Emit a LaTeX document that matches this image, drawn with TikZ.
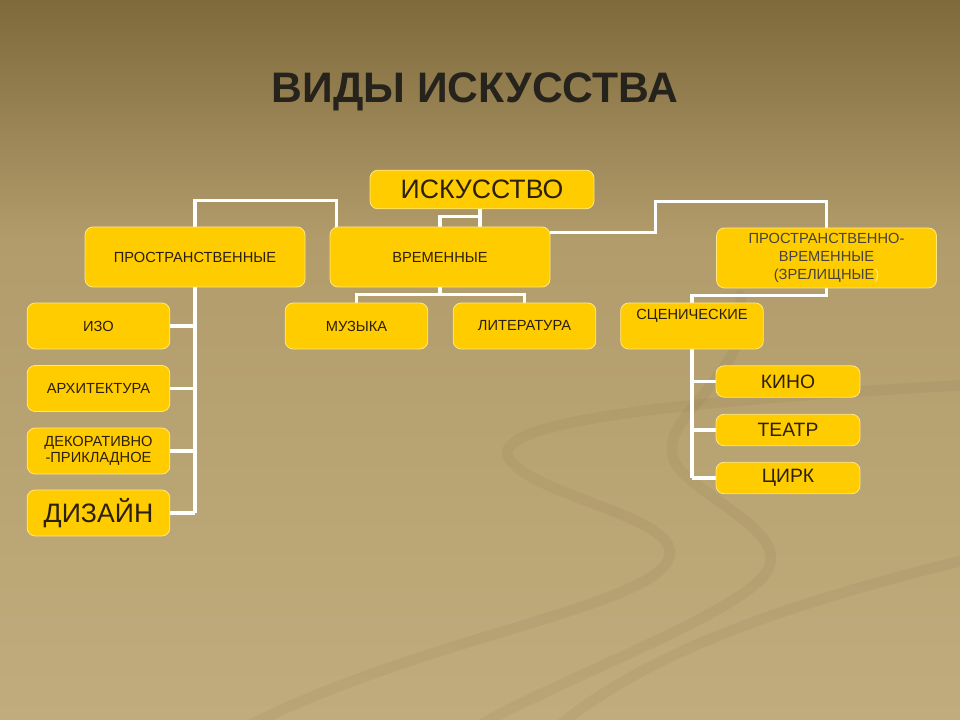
\documentclass[tikz,border=0pt]{standalone}
\usepackage{fontspec}
\setmainfont{Liberation Sans}
\usetikzlibrary{calc}
\definecolor{BoxYellow}{RGB}{255,204,0}
\definecolor{BoxEdge}  {RGB}{255,232,130}
\definecolor{InkBrown} {RGB}{45,32,10}
\definecolor{TitleInk} {RGB}{38,34,28}
\definecolor{BgTop}    {RGB}{127,106,60}
\definecolor{BgMid}    {RGB}{178,156,108}
\definecolor{BgLow}    {RGB}{192,172,124}
\definecolor{Swoosh}   {RGB}{120,98,58}
\pgfdeclarelayer{paper}
\pgfdeclarelayer{wires}
\pgfsetlayers{paper,wires,main}

\begin{document}
\begin{tikzpicture}[x=0.75pt,y=-0.75pt,
  tile/.style={draw=BoxEdge,line width=0.6pt,fill=BoxYellow,
               rounded corners=6pt,text=InkBrown,inner sep=0pt,align=center,
               font=\fontsize{11}{13}\selectfont},
  big/.style={font=\fontsize{20}{24}\selectfont},
  mid/.style={font=\fontsize{14.5}{17}\selectfont},
  wide/.style={tile,minimum width=165pt,minimum height=45pt},
  small/.style={tile,minimum width=107pt,minimum height=34.5pt},
  strip/.style={tile,mid,minimum width=108pt,minimum height=23.5pt},
  wire/.style={draw=white,line width=2.3pt}]
  \useasboundingbox (0,0) rectangle (960,720);
  % Background
  \begin{pgfonlayer}{paper}
    \shade[top color=BgTop,bottom color=BgMid] (0,0) rectangle (960,241);
    \shade[top color=BgMid,bottom color=BgLow] (0,240) rectangle (960,720);
    \begin{scope}[Swoosh,opacity=0.09,line width=8pt,line cap=round]
      \draw (965,385) .. controls (700,400) and (480,420) .. (510,460)
            .. controls (540,500) and (700,520) .. (665,565)
            .. controls (630,610) and (420,640) .. (250,725);
      \draw (740,295) .. controls (760,380) and (640,420) .. (680,470)
            .. controls (720,510) and (800,540) .. (760,580)
            .. controls (720,620) and (560,680) .. (480,725);
      \draw (965,560) .. controls (800,600) and (650,650) .. (560,725);
    \end{scope}
  \end{pgfonlayer}
  % Title
  \node[font=\fontsize{32}{38}\selectfont\bfseries,text=TitleInk] (title)
       at (475,92) {ВИДЫ ИСКУССТВА};
  % Top levels
  \node[tile,big,minimum width=168pt,minimum height=29pt] (art)
       at (482,189.5) {ИСКУССТВО};
  \node[wide] (spat) at (195,257) {ПРОСТРАНСТВЕННЫЕ};
  \node[wide] (temp) at (440,257) {ВРЕМЕННЫЕ};
  \node[wide,font=\fontsize{11}{13.5}\selectfont,text=TitleInk!85] (spte)
       at (826.5,258)
       {ПРОСТРАНСТВЕННО-\\ВРЕМЕННЫЕ\\(ЗРЕЛИЩНЫЕ\textcolor{BoxEdge}{)}};
  % Spatial arts
  \node[small] (izo)  at (98.5,326) {ИЗО};
  \node[small] (arch) at (98.5,388.5) {АРХИТЕКТУРА};
  \node[small,font=\fontsize{11}{12.5}\selectfont] (deco) at (98.5,451)
       {ДЕКОРАТИВНО\\-ПРИКЛАДНОЕ};
  \node[small,big] (dsgn) at (98.5,513) {ДИЗАЙН};
  % Temporal arts
  \node[small] (music) at (356.5,326) {МУЗЫКА};
  \node[small] (lit)   at (524.5,326) {ЛИТЕРАТУРА};
  % Spectacle arts
  \node[small] (scen) at (692,326) {СЦЕНИЧЕСКИЕ\\[1pt]\strut};
  \node[strip] (kino)   at (788,381.5) {КИНО};
  \node[strip] (teatr)  at (788,430)   {ТЕАТР};
  \node[strip] (circus) at (788,478)   {ЦИРК};
  % Connectors
  \begin{pgfonlayer}{wires}
    \draw[wire] (spat.north) -- ++(0,-26) -| ($(temp.north west)+(7,0)$);
    \coordinate (artfoot) at ($(art.south)+(-2,0)$);
    \draw[wire] (artfoot) -- (artfoot |- temp.north);
    \draw[wire] (temp.north) -- ++(0,-10) -| (artfoot);
    \draw[wire] ($(temp.north east)+(0,6)$) -| ($(spte.north)+(-171,-26)$)
                -| (spte.north);
    \draw[wire] (spat.south) -- (spat.south |- dsgn.east);
    \foreach \leaf in {izo,arch,deco,dsgn}
      \draw[wire] (\leaf.east) -- (spat.south |- \leaf.east);
    \draw[wire] (temp.south) -- ++(0,7);
    \draw[wire] (music.north) |- ($(temp.south)+(0,7)$) -| (lit.north);
    \draw[wire] (spte.south) -- ++(0,7) -| (scen.north);
    \draw[wire] (scen.south) -- (scen.south |- circus.west);
    \foreach \leaf in {kino,teatr,circus}
      \draw[wire] (\leaf.west) -- (scen.south |- \leaf.west);
  \end{pgfonlayer}
\end{tikzpicture}
\end{document}
